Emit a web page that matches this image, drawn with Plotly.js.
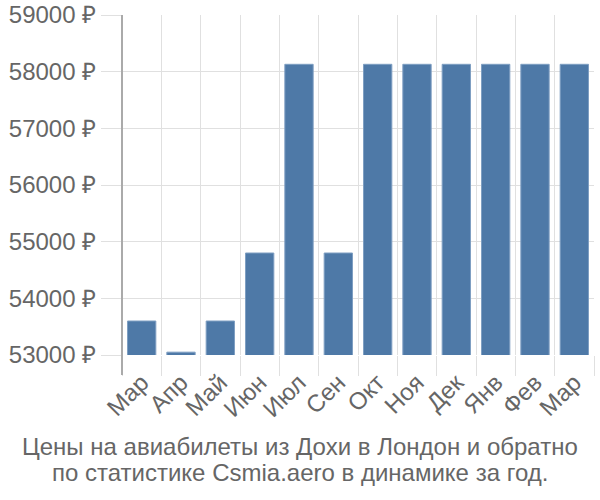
<!DOCTYPE html>
<html>
<head>
<meta charset="utf-8">
<script src="https://cdn.plot.ly/plotly-3.0.1.min.js"></script>
<style>html,body{margin:0;padding:0;background:#fff;}#chart{width:600px;height:500px;}</style>
</head>
<body>
<div id="chart"></div>
<script>
var months = ["Мар", "Апр", "Май", "Июн", "Июл", "Сен", "Окт", "Ноя", "Дек", "Янв", "Фев", "Мар"];
var prices = [53600, 53050, 53600, 54800, 58130, 54800, 58130, 58130, 58130, 58130, 58130, 58130];
var yTicks = [53000, 54000, 55000, 56000, 57000, 58000, 59000];
var titleLines = ["Цены на авиабилеты из Дохи в Лондон и обратно", "по статистике Csmia.aero в динамике за год."];

var idx = months.map(function (_, i) { return i; });
var bounds = [];
for (var i = 0; i <= months.length; i++) bounds.push(i - 0.5);

var font = "Liberation Sans, Arial, sans-serif";
var fs = 24;

var trace = {
  type: "bar",
  x: idx,
  y: prices,
  marker: { color: "#4e79a7", line: { color: "#7f9fc2", width: 1 } },
  hoverinfo: "none"
};
var ghost = {
  type: "scatter", mode: "none", x: bounds, y: bounds.map(function(){return 53000;}),
  xaxis: "x2", yaxis: "y", hoverinfo: "none", showlegend: false
};

var layout = {
  width: 600, height: 500,
  margin: { l: 122, r: 6, t: 15, b: 145 },
  paper_bgcolor: "#fff", plot_bgcolor: "#fff",
  showlegend: false,
  bargap: 0.28,
  xaxis: {
    range: [-0.5, months.length - 0.5],
    tickvals: idx, ticktext: months,
    tickangle: -45,
    showgrid: false, zeroline: false, showline: false,
    ticks: "outside", ticklen: 3, tickcolor: "rgba(0,0,0,0)",
    tickfont: { family: font, size: fs, color: "#666" }
  },
  xaxis2: {
    overlaying: "x", matches: "x",
    range: [-0.5, months.length - 0.5],
    tickvals: bounds, showticklabels: false,
    showgrid: true, gridcolor: "#e0e0e0", gridwidth: 1,
    ticks: "outside", ticklen: 20, tickcolor: "#e0e0e0", tickwidth: 1,
    zeroline: false, showline: false
  },
  yaxis: {
    range: [53000, 59000],
    tickvals: yTicks,
    ticktext: yTicks.map(function (v) { return v + " ₽"; }),
    showgrid: true, gridcolor: "#e0e0e0", gridwidth: 1,
    ticks: "outside", ticklen: 20, tickcolor: "#e0e0e0",
    zeroline: false, showline: false,
    tickfont: { family: font, size: fs, color: "#666" }
  },
  shapes: [
    { type: "line", xref: "paper", yref: "paper", x0: 0, x1: 0, y0: -20 / 340, y1: 1,
      line: { color: "#aaaaaa", width: 2 } }
  ],
  annotations: titleLines.map(function (t, k) {
    return { xref: "paper", yref: "paper", x: (300 - 122) / 472, y: 0,
      xanchor: "center", yanchor: "middle", yshift: -(446 - 355) - 26 * k,
      text: t, showarrow: false,
      font: { family: font, size: fs, color: "#666" } };
  })
};

Plotly.newPlot("chart", [trace, ghost], layout, { staticPlot: true });
</script>
</body>
</html>
